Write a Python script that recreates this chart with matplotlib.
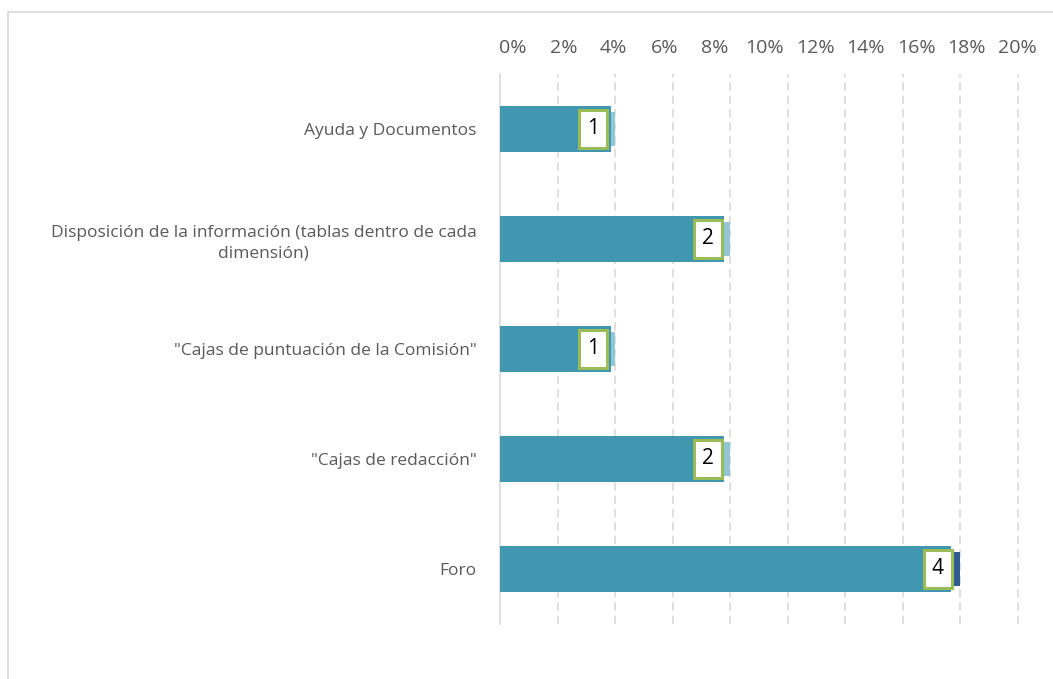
import matplotlib
matplotlib.use("Agg")
import matplotlib.pyplot as plt
from matplotlib.patches import Rectangle
import numpy as np

plt.rcParams['font.family'] = ['Open Sans', 'DejaVu Sans']

categories = [
    "Ayuda y Documentos",
    "Disposición de la información (tablas dentro de cada\ndimensión)",
    "\"Cajas de puntuación de la Comisión\"",
    "\"Cajas de redacción\"",
    "Foro",
]
main_pct = [3.86, 7.8, 3.86, 7.8, 15.67]      # teal bars
overlay_pct = [4.0, 8.0, 4.0, 8.0, 16.0]      # thin bars behind
overlay_kind = ["light", "light", "light", "light", "dark"]
counts = [1, 2, 1, 2, 4]
tick_labels = ["0%", "2%", "4%", "6%", "8%", "10%", "12%", "14%", "16%", "18%", "20%"]
grid_values = [2, 4, 6, 8, 10, 12, 14, 16, 18]

W, H = 1053, 679
fig = plt.figure(figsize=(W / 100, H / 100), dpi=100)

# outer chart frame (cropped)
fig.patches.append(Rectangle((8 / W, -0.2), 1.2, (H - 12) / H + 0.2, transform=fig.transFigure,
                             fill=False, edgecolor="#D9D9D9", linewidth=1.2, zorder=0))

px = 28.75  # pixels per 1%
left, top, bottom = 500, 74, 624
xmax = 19.0
right = left + xmax * px
ax = fig.add_axes([left / W, 1 - bottom / H, (right - left) / W, (bottom - top) / H])

y = np.arange(len(categories))
colors_over = {"light": "#92C5DA", "dark": "#2F5B8F"}
ax.barh(y, overlay_pct, height=0.31, color=[colors_over[k] for k in overlay_kind], zorder=2)
ax.barh(y, main_pct, height=0.42, color="#4197AF", zorder=3)

for yi, v, c in zip(y, overlay_pct, counts):
    ax.annotate(str(c), xy=(v, yi), xytext=(-22 * 0.72, 0), textcoords="offset points",
                ha="center", va="center", fontsize=15, color="black", zorder=5,
                bbox=dict(boxstyle="square,pad=0.4", fc="white", ec="#9BBB59", lw=2.2))

ax.set_xlim(0, xmax)
ax.set_ylim(len(categories) - 0.5, -0.5)

ax.set_yticks(y)
ax.set_yticklabels(categories, fontsize=12.5, color="#595959", linespacing=1.4)
for t in ax.get_yticklabels():
    t.set_multialignment("center")
ax.tick_params(axis="y", length=0, pad=17)

label_pos = np.linspace(0.45, 17.98, len(tick_labels))
ax.set_xticks(label_pos)
ax.set_xticklabels(tick_labels, fontsize=14, color="#595959")
ax.set_xticks(grid_values, minor=True)
ax.xaxis.tick_top()
ax.tick_params(axis="x", which="both", length=0, pad=12)
ax.grid(False)
ax.grid(True, axis="x", which="minor", color="#D9D9D9", linestyle=(0, (5, 3)), linewidth=1.2, zorder=0)

for s in ["top", "right", "bottom"]:
    ax.spines[s].set_visible(False)
ax.spines["left"].set_color("#D9D9D9")
ax.spines["left"].set_linewidth(1.2)

fig.savefig("out.png", dpi=100)
